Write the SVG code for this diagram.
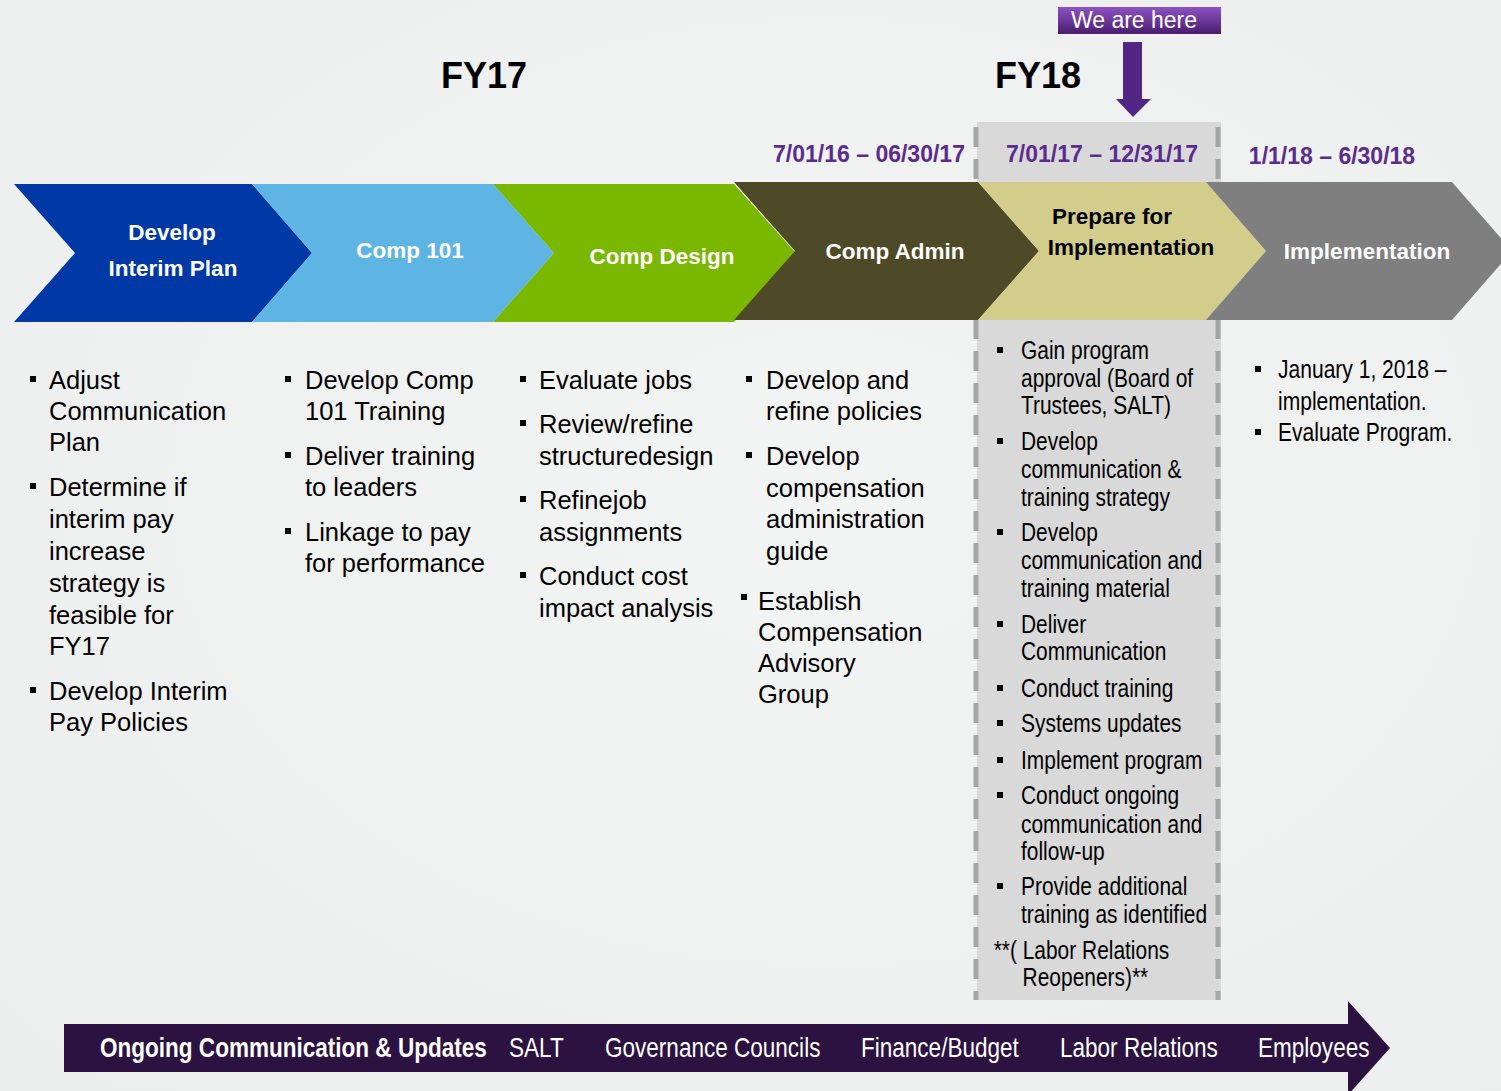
<svg xmlns="http://www.w3.org/2000/svg" width="1501" height="1091" viewBox="0 0 1501 1091">
  <defs>
    <radialGradient id="bg" cx="0.55" cy="0.45" r="0.8">
      <stop offset="0" stop-color="#f3f4f4"/>
      <stop offset="1" stop-color="#eceded"/>
    </radialGradient>
    <linearGradient id="hereFill" x1="0" y1="0" x2="0" y2="1">
      <stop offset="0" stop-color="#8d52c4"/>
      <stop offset="1" stop-color="#4a1d6e"/>
    </linearGradient>
    <rect id="dot" width="6" height="6" fill="#000"/>
  </defs>
  <style>
    .fy { font-family: "Liberation Sans", Arial, sans-serif; font-weight: bold; font-size: 36px; fill: #000; text-anchor: middle; }
    .date { font-family: "Liberation Sans", Arial, sans-serif; font-weight: bold; font-size: 23px; fill: #5b2c8f; text-anchor: middle; }
    .lbl { font-family: "Liberation Sans", Arial, sans-serif; font-weight: bold; font-size: 22.5px; fill: #fff; text-anchor: middle; }
    .lbl.dark { fill: #000; }
    .item { font-family: "Liberation Sans", Arial, sans-serif; font-size: 25.5px; fill: #000; }
    /* condensed lists: regular face squeezed horizontally */
    .narrow { font-family: "Liberation Sans", Arial, sans-serif; font-size: 26px; fill: #000; }
    .bar { font-family: "Liberation Sans", Arial, sans-serif; font-size: 27.5px; fill: #fff; }
    .bar.b { font-weight: bold; }
    .here { font-family: "Liberation Sans", Arial, sans-serif; font-size: 23px; fill: #fff; text-anchor: middle; }
    .dash { stroke: #a6a6a6; stroke-width: 5; stroke-dasharray: 20 12; fill: none; }
  </style>

  <rect width="1501" height="1091" fill="url(#bg)"/>

  <!-- current period column -->
  <g id="current-column">
    <rect x="977" y="122" width="244" height="878" fill="#d9d9d9"/>
    <line class="dash" x1="976" y1="127" x2="976" y2="1000"/>
    <line class="dash" x1="1218" y1="127" x2="1218" y2="1000"/>
  </g>

  <!-- marker for the current period -->
  <g id="we-are-here">
    <rect x="1058" y="7" width="163" height="27" fill="url(#hereFill)"/>
    <text class="here" x="1134" y="28">We are here</text>
    <polygon points="1123,42 1142,42 1142,99 1151,99 1133,117 1116,99 1123,99" fill="#532683"/>
  </g>

  <!-- fiscal years and date ranges -->
  <g id="headings">
    <text class="fy" x="484" y="88">FY17</text>
    <text class="fy" x="1038" y="88">FY18</text>
    <text class="date" x="869" y="162">7/01/16 – 06/30/17</text>
    <text class="date" x="1102" y="162">7/01/17 – 12/31/17</text>
    <text class="date" x="1332" y="164">1/1/18 – 6/30/18</text>
  </g>

  <!-- phase chevrons -->
  <g id="phase-develop-interim-plan">
    <polygon points="14,184 252,184 312,253 252,322 14,322 75,253" fill="#0039a6"/>
    <text class="lbl" x="172" y="240">Develop</text>
    <text class="lbl" x="173" y="276">Interim Plan</text>
  </g>
  <g id="phase-comp-101">
    <polygon points="252,184 493,184 554,253 493,322 252,322 312,253" fill="#5eb5e3"/>
    <text class="lbl" x="410" y="258">Comp 101</text>
  </g>
  <g id="phase-comp-design">
    <polygon points="493,184 734,184 795,252 734,322 493,322 554,253" fill="#7ab800"/>
    <text class="lbl" x="662" y="264">Comp Design</text>
  </g>
  <g id="phase-comp-admin">
    <polygon points="734,182 978,182 1039,251 978,320 734,320 795,251" fill="#4e4a27"/>
    <text class="lbl" x="895" y="259">Comp Admin</text>
  </g>
  <g id="phase-prepare">
    <polygon points="978,182 1206,182 1266,251 1206,320 978,320 1039,251" fill="#d3cd8b"/>
    <text class="lbl dark" x="1112" y="224">Prepare for</text>
    <text class="lbl dark" x="1131" y="255">Implementation</text>
  </g>
  <g id="phase-implementation">
    <polygon points="1206,182 1452,182 1512,251 1452,320 1206,320 1266,251" fill="#7f7f7f"/>
    <text class="lbl" x="1367" y="259">Implementation</text>
  </g>

  <!-- task lists -->
  <g id="tasks-develop-interim-plan">
    <use href="#dot" x="30" y="376"/>
    <text class="item" x="49" y="389">Adjust</text>
    <text class="item" x="49" y="420">Communication</text>
    <text class="item" x="49" y="451">Plan</text>
    <use href="#dot" x="30" y="483"/>
    <text class="item" x="49" y="496">Determine if</text>
    <text class="item" x="49" y="528">interim pay</text>
    <text class="item" x="49" y="560">increase</text>
    <text class="item" x="49" y="592">strategy is</text>
    <text class="item" x="49" y="624">feasible for</text>
    <text class="item" x="49" y="655">FY17</text>
    <use href="#dot" x="30" y="687"/>
    <text class="item" x="49" y="700">Develop Interim</text>
    <text class="item" x="49" y="731">Pay Policies</text>
  </g>
  <g id="tasks-comp-101">
    <use href="#dot" x="285" y="376"/>
    <text class="item" x="305" y="389">Develop Comp</text>
    <text class="item" x="305" y="420">101 Training</text>
    <use href="#dot" x="285" y="452"/>
    <text class="item" x="305" y="465">Deliver training</text>
    <text class="item" x="305" y="496">to leaders</text>
    <use href="#dot" x="285" y="528"/>
    <text class="item" x="305" y="541">Linkage to pay</text>
    <text class="item" x="305" y="572">for performance</text>
  </g>
  <g id="tasks-comp-design">
    <use href="#dot" x="520" y="376"/>
    <text class="item" x="539" y="389">Evaluate jobs</text>
    <use href="#dot" x="520" y="420"/>
    <text class="item" x="539" y="433">Review/refine</text>
    <text class="item" x="539" y="465">structuredesign</text>
    <use href="#dot" x="520" y="496"/>
    <text class="item" x="539" y="509">Refinejob</text>
    <text class="item" x="539" y="541">assignments</text>
    <use href="#dot" x="520" y="572"/>
    <text class="item" x="539" y="585">Conduct cost</text>
    <text class="item" x="539" y="617">impact analysis</text>
  </g>
  <g id="tasks-comp-admin">
    <use href="#dot" x="746" y="376"/>
    <text class="item" x="766" y="389">Develop and</text>
    <text class="item" x="766" y="420">refine policies</text>
    <use href="#dot" x="746" y="452"/>
    <text class="item" x="766" y="465">Develop</text>
    <text class="item" x="766" y="497">compensation</text>
    <text class="item" x="766" y="528">administration</text>
    <text class="item" x="766" y="560">guide</text>
    <use href="#dot" x="741" y="594"/>
    <text class="item" x="758" y="610">Establish</text>
    <text class="item" x="758" y="641">Compensation</text>
    <text class="item" x="758" y="672">Advisory</text>
    <text class="item" x="758" y="703">Group</text>
  </g>
  <g id="tasks-prepare">
    <use href="#dot" x="997" y="347"/>
    <use href="#dot" x="997" y="438"/>
    <use href="#dot" x="997" y="529"/>
    <use href="#dot" x="997" y="621"/>
    <use href="#dot" x="997" y="685"/>
    <use href="#dot" x="997" y="720"/>
    <use href="#dot" x="997" y="757"/>
    <use href="#dot" x="997" y="792"/>
    <use href="#dot" x="997" y="883"/>
    <g transform="translate(1021 0) scale(0.805 1)">
      <text class="narrow" x="0" y="359">Gain program</text>
      <text class="narrow" x="0" y="387">approval (Board of</text>
      <text class="narrow" x="0" y="414">Trustees, SALT)</text>
      <text class="narrow" x="0" y="450">Develop</text>
      <text class="narrow" x="0" y="478">communication &amp;</text>
      <text class="narrow" x="0" y="506">training strategy</text>
      <text class="narrow" x="0" y="541">Develop</text>
      <text class="narrow" x="0" y="569">communication and</text>
      <text class="narrow" x="0" y="597">training material</text>
      <text class="narrow" x="0" y="633">Deliver</text>
      <text class="narrow" x="0" y="660">Communication</text>
      <text class="narrow" x="0" y="697">Conduct training</text>
      <text class="narrow" x="0" y="732">Systems updates</text>
      <text class="narrow" x="0" y="769">Implement program</text>
      <text class="narrow" x="0" y="804">Conduct ongoing</text>
      <text class="narrow" x="0" y="833">communication and</text>
      <text class="narrow" x="0" y="860">follow-up</text>
      <text class="narrow" x="0" y="895">Provide additional</text>
      <text class="narrow" x="0" y="923">training as identified</text>
      <text class="narrow" x="-34" y="959">**( Labor Relations</text>
      <text class="narrow" x="2" y="986">Reopeners)**</text>
    </g>
  </g>
  <g id="tasks-implementation">
    <use href="#dot" x="1255" y="366"/>
    <use href="#dot" x="1255" y="429"/>
    <g transform="translate(1278 0) scale(0.81 1)">
      <text class="narrow" x="0" y="378" font-size="25.5">January 1, 2018 –</text>
      <text class="narrow" x="0" y="410" font-size="25.5">implementation.</text>
      <text class="narrow" x="0" y="441" font-size="25.5">Evaluate Program.</text>
    </g>
  </g>

  <!-- ongoing communication band -->
  <g id="ongoing-communication">
    <polygon points="64,1024 1348,1024 1348,1001 1390,1048 1348,1095 1348,1072 64,1072" fill="#2b1240"/>
    <text class="bar b" transform="translate(100 1057) scale(0.82 1)">Ongoing Communication &amp; Updates</text>
    <text class="bar" transform="translate(509 1057) scale(0.82 1)">SALT</text>
    <text class="bar" transform="translate(605 1057) scale(0.82 1)">Governance Councils</text>
    <text class="bar" transform="translate(861 1057) scale(0.82 1)">Finance/Budget</text>
    <text class="bar" transform="translate(1060 1057) scale(0.82 1)">Labor Relations</text>
    <text class="bar" transform="translate(1258 1057) scale(0.82 1)">Employees</text>
  </g>
</svg>
